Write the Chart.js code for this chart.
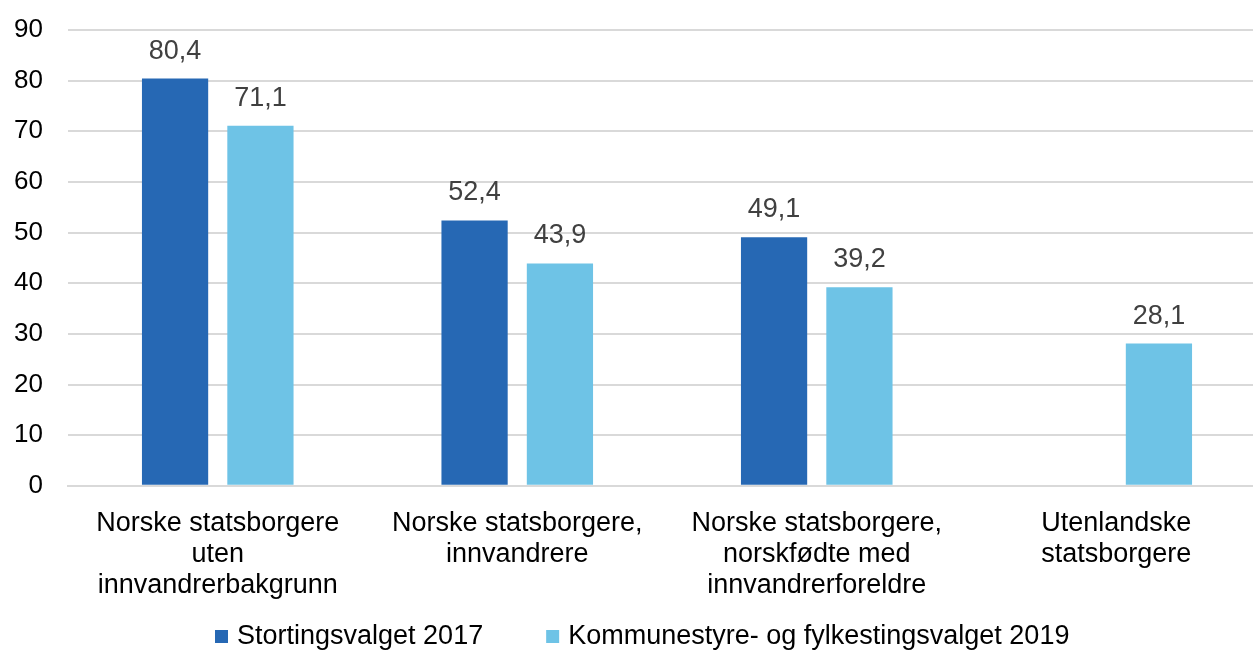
<!DOCTYPE html>
<html><head><meta charset="utf-8">
<script src="https://cdn.jsdelivr.net/npm/chart.js@4"></script>
<style>html,body{margin:0;padding:0;background:#fff;overflow:hidden;width:1253px;height:655px}#wrap{width:1266px;height:655px;position:relative}</style>
</head><body><div id="wrap"><canvas id="c"></canvas></div>
<script>
const categories = [
  ["Norske statsborgere","uten","innvandrerbakgrunn"],
  ["Norske statsborgere,","innvandrere"],
  ["Norske statsborgere,","norskfødte med","innvandrerforeldre"],
  ["Utenlandske","statsborgere"]
];
const seriesNames = ["Stortingsvalget 2017","Kommunestyre- og fylkestingsvalget 2019"];
const storting2017 = [80.4, 52.4, 49.1, null];
const kommune2019 = [71.1, 43.9, 39.2, 28.1];
const yTicks = [0,10,20,30,40,50,60,70,80,90];
const seriesColors = ['#2668B4','#6EC3E6'];

const font = "'Liberation Sans', Arial, sans-serif";
const labelPlugin = {
  id:'vlabels',
  afterDatasetsDraw(chart){
    const ctx = chart.ctx;
    ctx.save();
    ctx.font = "27px " + font;
    ctx.fillStyle = "#404040";
    ctx.textAlign = "center";
    ctx.textBaseline = "alphabetic";
    chart.data.datasets.forEach((ds,i)=>{
      const meta = chart.getDatasetMeta(i);
      meta.data.forEach((bar,j)=>{
        const v = ds.data[j];
        if(v==null) return;
        ctx.fillText(v.toFixed(1).replace('.',','), bar.x, bar.y - 20);
      });
    });
    ctx.restore();
  }
};
const legendPlugin = {
  id:'customLegend',
  afterDraw(chart){
    const ctx = chart.ctx;
    ctx.save();
    ctx.font = "27px " + font;
    ctx.textBaseline = "middle";
    ctx.textAlign = "left";
    let x = 215;
    const y = 637;
    chart.data.datasets.forEach((ds,i)=>{
      ctx.fillStyle = ds.backgroundColor;
      ctx.fillRect(x, y-7, 13, 13);
      x += 22;
      ctx.fillStyle = '#000';
      ctx.fillText(ds.label, x, y);
      x += ctx.measureText(ds.label).width + 63;
    });
    ctx.restore();
  }
};
new Chart(document.getElementById('c'),{
  type:'bar',
  data:{labels:categories,datasets:[
    {label:seriesNames[0],data:storting2017,backgroundColor:seriesColors[0]},
    {label:seriesNames[1],data:kommune2019,backgroundColor:seriesColors[1]}
  ]},
  options:{
    responsive:true,maintainAspectRatio:false,animation:false,
    datasets:{bar:{categoryPercentage:0.57,barPercentage:0.776}},
    layout:{padding:{top:30,right:0,left:13,bottom:40}},
    plugins:{
      legend:{display:false},
      tooltip:{enabled:false}
    },
    scales:{
      x:{grid:{display:false},border:{color:'#d9d9d9',width:2},
         ticks:{font:{family:font,size:27,lineHeight:1.15},color:'#000',maxRotation:0,autoSkip:false,padding:14}},
      y:{min:0,max:90,afterBuildTicks(s){s.ticks=yTicks.map(v=>({value:v}));},
         afterFit(s){s.width=55;s.paddingTop=0;s.paddingBottom=0;},
         grid:{color:'#d9d9d9',lineWidth:2,drawTicks:false},border:{display:false},
         ticks:{font:{family:font,size:26},color:'#000',padding:25}}
    }
  },
  plugins:[labelPlugin, legendPlugin]
});
</script></body></html>
